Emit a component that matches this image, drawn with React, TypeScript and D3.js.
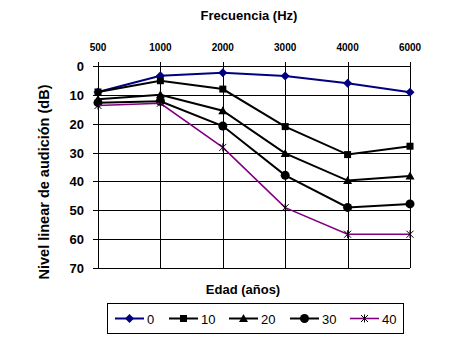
import React, { useEffect, useRef } from "react";
import * as d3 from "d3";

const frequencies = ["500", "1000", "2000", "3000", "4000", "6000"];
const ages = ["0", "10", "20", "30", "40"];
const age0 = [9, 3.4, 2.3, 3.5, 6, 9.1];
const age10 = [9, 5.1, 8, 21, 30.7, 27.8];
const age20 = [11.5, 10, 15.5, 30.3, 39.7, 38.1];
const age30 = [12.7, 12.2, 20.8, 37.9, 49, 47.8];
const age40 = [13.7, 12.9, 28.2, 49.1, 58.3, 58.3];
const yTicks = [0, 10, 20, 30, 40, 50, 60, 70];

const seriesValues = [age0, age10, age20, age30, age40];
const seriesColors = ["#000080", "#000000", "#000000", "#000000", "#800080"];
const seriesMarkers = ["diamond", "square", "triangle", "circle", "star"];

const FONT = "'Liberation Sans', Arial, sans-serif";

const App = () => {
  const ref = useRef(null);

  useEffect(() => {
    const svg = d3.select(ref.current);
    svg.selectAll("*").remove();

    const left = 98,
      right = 410,
      top = 66,
      bottom = 268;

    const x = d3.scalePoint().domain(frequencies).range([left, right]);
    const y = d3.scaleLinear().domain([0, 70]).range([top, bottom]);

    // grid
    const grid = svg.append("g").attr("stroke", "#000").attr("stroke-width", 1);
    yTicks.forEach((t) => {
      grid
        .append("line")
        .attr("x1", left - 5)
        .attr("x2", right)
        .attr("y1", Math.round(y(t)) + 0.5)
        .attr("y2", Math.round(y(t)) + 0.5);
    });
    frequencies.forEach((f) => {
      grid
        .append("line")
        .attr("x1", Math.round(x(f)!) + 0.5)
        .attr("x2", Math.round(x(f)!) + 0.5)
        .attr("y1", top - 4)
        .attr("y2", bottom);
    });

    // top axis labels
    svg
      .append("g")
      .selectAll("text")
      .data(frequencies)
      .enter()
      .append("text")
      .attr("x", (d) => x(d)!)
      .attr("y", 51)
      .attr("text-anchor", "middle")
      .style("font", `bold 10px ${FONT}`)
      .text((d) => d);

    // y axis labels
    svg
      .append("g")
      .selectAll("text")
      .data(yTicks)
      .enter()
      .append("text")
      .attr("x", 84)
      .attr("y", (d) => y(d) + 5)
      .attr("text-anchor", "end")
      .style("font", `bold 13px ${FONT}`)
      .text((d) => d);

    // titles
    svg
      .append("text")
      .attr("x", 249)
      .attr("y", 20)
      .attr("text-anchor", "middle")
      .style("font", `bold 13px ${FONT}`)
      .text("Frecuencia (Hz)");
    svg
      .append("text")
      .attr("x", 243)
      .attr("y", 294)
      .attr("text-anchor", "middle")
      .style("font", `bold 13px ${FONT}`)
      .text("Edad (años)");
    svg
      .append("text")
      .attr("transform", "translate(49,182) rotate(-90)")
      .attr("text-anchor", "middle")
      .style("font", `bold 14.5px ${FONT}`)
      .text("Nivel linear de audición (dB)");

    const drawMarker = (g: any, kind: string, cx: number, cy: number, color: string) => {
      if (kind === "diamond") {
        g.append("path")
          .attr("d", `M${cx},${cy - 4.5}L${cx + 4.5},${cy}L${cx},${cy + 4.5}L${cx - 4.5},${cy}Z`)
          .attr("fill", color);
      } else if (kind === "square") {
        g.append("rect")
          .attr("x", cx - 3.5)
          .attr("y", cy - 3.5)
          .attr("width", 7)
          .attr("height", 7)
          .attr("fill", color);
      } else if (kind === "triangle") {
        g.append("path")
          .attr("d", `M${cx},${cy - 4.5}L${cx + 4.5},${cy + 3.5}L${cx - 4.5},${cy + 3.5}Z`)
          .attr("fill", color);
      } else if (kind === "circle") {
        g.append("circle").attr("cx", cx).attr("cy", cy).attr("r", 4.5).attr("fill", color);
      } else {
        g.append("path")
          .attr(
            "d",
            `M${cx - 3.5},${cy - 3.5}L${cx + 3.5},${cy + 3.5}M${cx + 3.5},${cy - 3.5}L${cx - 3.5},${cy + 3.5}M${cx},${cy - 4}L${cx},${cy + 4}`
          )
          .attr("stroke", "#000")
          .attr("stroke-width", 1)
          .attr("fill", "none");
      }
    };

    // series
    const line = d3
      .line<number>()
      .x((_, i) => x(frequencies[i])!)
      .y((d) => y(d));

    seriesValues.forEach((vals, si) => {
      const g = svg.append("g");
      g.append("path")
        .attr("d", line(vals))
        .attr("fill", "none")
        .attr("stroke", seriesColors[si])
        .attr("stroke-width", si === 4 ? 1.6 : 2);
      vals.forEach((v, i) => {
        drawMarker(g, seriesMarkers[si], x(frequencies[i])!, y(v), seriesColors[si]);
      });
    });

    // legend
    const legend = svg.append("g");
    legend
      .append("rect")
      .attr("x", 107.5)
      .attr("y", 303.5)
      .attr("width", 296)
      .attr("height", 30)
      .attr("fill", "#fff")
      .attr("stroke", "#000");
    const keyStarts = [115, 169, 229, 290, 350];
    ages.forEach((a, i) => {
      const kx = keyStarts[i];
      const ky = 318.5;
      legend
        .append("line")
        .attr("x1", kx)
        .attr("x2", kx + 29)
        .attr("y1", ky)
        .attr("y2", ky)
        .attr("stroke", seriesColors[i])
        .attr("stroke-width", i === 4 ? 1.6 : 2);
      drawMarker(legend, seriesMarkers[i], kx + 14.5, ky, seriesColors[i]);
      legend
        .append("text")
        .attr("x", kx + 32)
        .attr("y", ky + 5)
        .style("font", `13px ${FONT}`)
        .text(a);
    });
  }, []);

  return <svg width={449} height={358} ref={ref} style={{ display: "block", margin: -8 }} />;
};

export default App;
